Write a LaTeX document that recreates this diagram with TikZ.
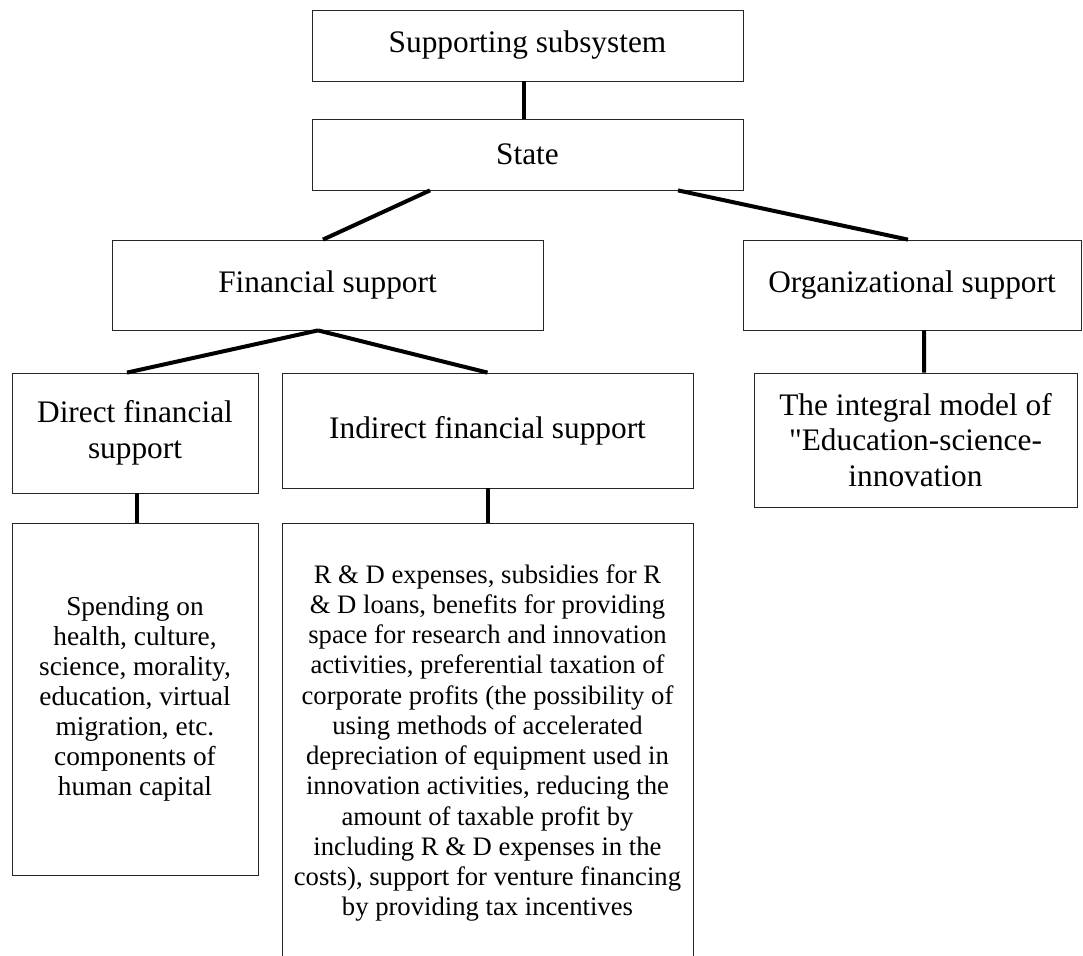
\documentclass[tikz,border=0pt]{standalone}
\usepackage{fontspec}
\setmainfont{Liberation Serif}[Ligatures=TeXOff]
\begin{document}
\begin{tikzpicture}[
   x=0.75pt,y=-0.75pt,
   box/.style={draw=black!85,line width=0.6pt,inner sep=0pt,align=center},
   line/.style={line width=3pt},
   labeltext/.style={font=\fontsize{23.5}{26.8}\selectfont},
   bodytext/.style={font=\fontsize{20.5}{22.5}\selectfont},
   notetext/.style={font=\fontsize{20}{22.7}\selectfont}
 ]
  \useasboundingbox (0,0) rectangle (1083,956);

  \node[box,labeltext,minimum width=323.25pt,minimum height=53.25pt] (sub) at (527.5,45.5) {Supporting subsystem};
  \node[box,labeltext,minimum width=323.25pt,minimum height=53.25pt] (state) at (527.5,154.5) {State};
  \draw[line] ([xshift=-2.6pt]sub.south) -- ([xshift=-2.6pt]state.north);

  \node[box,labeltext,minimum width=323.25pt,minimum height=67.5pt] (fin) at (327.5,285) {Financial support};
  \node[box,labeltext,minimum width=253.5pt,minimum height=67.5pt] (org) at (912,285) {Organizational support};
  \draw[line] ([xshift=-73.1pt]state.south) -- ([xshift=-3.4pt]fin.north);
  \draw[line] ([xshift=112.9pt]state.south) -- ([xshift=-3pt]org.north);

  \node[box,labeltext,minimum width=184.5pt,minimum height=90pt] (direct) at (135,433) {Direct financial\\support};
  \node[box,labeltext,minimum width=308.25pt,minimum height=86.25pt] (indirect) at (487.5,430.5) {Indirect financial support};
  \node[box,labeltext,minimum width=242.25pt,minimum height=100.5pt] (integral) at (915.5,440) {The integral model of\\"Education-science-\\innovation};
  \draw[line] ([xshift=-7.1pt]fin.south) -- ([xshift=-6pt]direct.north);
  \draw[line] ([xshift=-7.1pt]fin.south) -- (indirect.north);
  \draw[line] ([xshift=9pt]org.south) -- ([xshift=6.4pt]integral.north);

  \node[box,bodytext,minimum width=184.5pt,minimum height=264pt] (spending) at (135,699) {Spending on\\health, culture,\\science, morality,\\education, virtual\\migration, etc.\\components of\\human capital};
  \node[box,notetext,minimum width=308.25pt,minimum height=330pt] (detail) at (487.5,743) {R \& D expenses, subsidies for R\\\& D loans, benefits for providing\\space for research and innovation\\activities, preferential taxation of\\corporate profits (the possibility of\\using methods of accelerated\\depreciation of equipment used in\\innovation activities, reducing the\\amount of taxable profit by\\including R \& D expenses in the\\costs), support for venture financing\\by providing tax incentives};
  \draw[line] ([xshift=1.5pt]direct.south) -- ([xshift=1.5pt]spending.north);
  \draw[line] (indirect.south) -- (detail.north);
\end{tikzpicture}
\end{document}
